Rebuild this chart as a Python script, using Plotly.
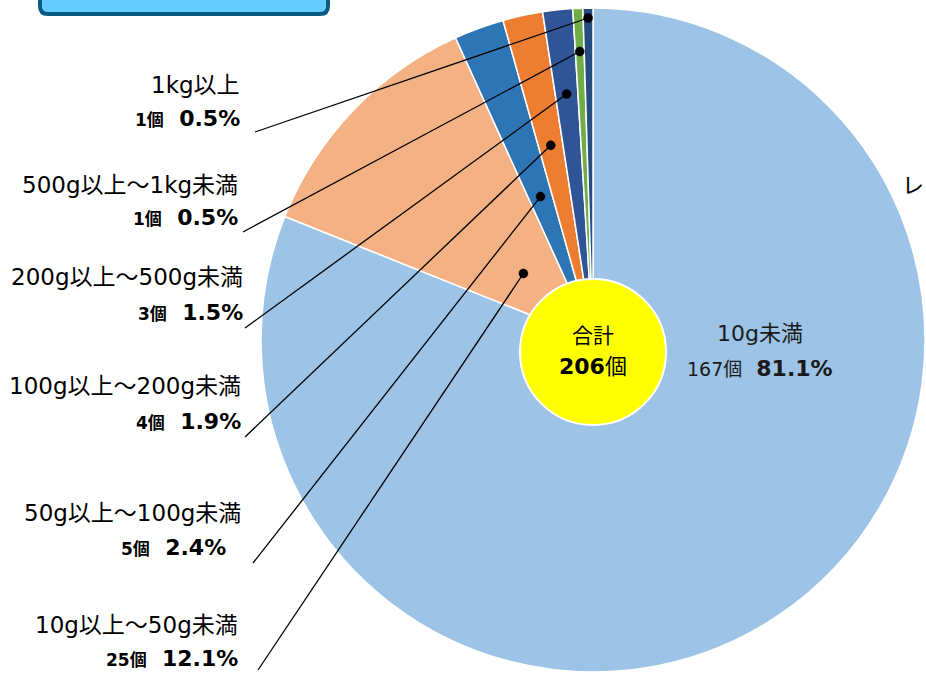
import math
import plotly.graph_objects as go

# ---- data ----
categories = ["10g未満", "10g以上～50g未満", "50g以上～100g未満", "100g以上～200g未満",
              "200g以上～500g未満", "500g以上～1kg未満", "1kg以上"]
counts = [167, 25, 5, 4, 3, 1, 1]
percents = ["81.1%", "12.1%", "2.4%", "1.9%", "1.5%", "0.5%", "0.5%"]
colors = ["#9DC3E6", "#F4B183", "#2E75B6", "#ED7D31", "#2F5597", "#70AD47", "#264D80"]
total_label = "合計"
total_value = sum(counts)

W, H = 926, 673
CX, CY, R = 593, 340, 332
FONT = "DejaVu Sans, Noto Sans CJK JP"

fig = go.Figure()
fig.add_trace(go.Pie(
    values=counts, labels=categories, sort=False, direction="clockwise", rotation=0,
    marker=dict(colors=colors, line=dict(color="white", width=1.5)),
    textinfo="none", hoverinfo="label+value+percent", showlegend=False,
    domain=dict(x=[(CX - R) / W, (CX + R) / W], y=[1 - (CY + R) / H, 1 - (CY - R) / H]),
))

# leader layout per small slice: label anchor, dot radius fraction, text rows
leader = {
    1: dict(lab=(258, 670), rf=0.29, y1=625, y2=658, x1=240, x2=240),
    2: dict(lab=(253, 563), rf=0.46, y1=513, y2=547, x1=243, x2=228),
    3: dict(lab=(245, 437), rf=0.60, y1=386, y2=421, x1=243, x2=243),
    4: dict(lab=(245, 328), rf=0.745, y1=277, y2=312, x1=245, x2=245),
    5: dict(lab=(243, 232), rf=0.87, y1=185, y2=217, x1=240, x2=240),
    6: dict(lab=(255, 132), rf=0.97, y1=85, y2=118, x1=242, x2=242),
}
tot = sum(counts)
cum = 0
mids = []
for c in counts:
    mids.append((cum + c / 2) / tot * 2 * math.pi)
    cum += c

annotations = []
shapes = []
for i, d in leader.items():
    a = mids[i]
    dx = CX + d["rf"] * R * math.sin(a)
    dy = CY - d["rf"] * R * math.cos(a)
    shapes.append(dict(type="line", xref="x", yref="y", x0=d["lab"][0], y0=d["lab"][1], x1=dx, y1=dy,
                       line=dict(color="black", width=1.3), layer="above"))
    shapes.append(dict(type="circle", xref="x", yref="y", x0=dx - 4.5, x1=dx + 4.5, y0=dy - 4.5, y1=dy + 4.5,
                       fillcolor="black", line=dict(color="black", width=0.5), layer="above"))
    annotations.append(dict(x=d["x1"], y=d["y1"], xref="x", yref="y", xanchor="right", yanchor="middle",
                            text=categories[i], showarrow=False,
                            font=dict(family=FONT, size=23, color="black")))
    annotations.append(dict(x=d["x2"], y=d["y2"], xref="x", yref="y", xanchor="right", yanchor="middle",
                            text=f"<b><span style='font-size:17px'>{counts[i]}個</span>&nbsp;&nbsp;{percents[i]}</b>",
                            showarrow=False, font=dict(family=FONT, size=22, color="black")))

# main slice label
annotations.append(dict(x=760, y=333, xref="x", yref="y", text=categories[0], showarrow=False,
                        font=dict(family=FONT, size=22, color="#1a1a1a")))
annotations.append(dict(x=760, y=368, xref="x", yref="y",
                        text=f"<span style='font-size:19px'>{counts[0]}個</span>&nbsp;&nbsp;<b>{percents[0]}</b>",
                        showarrow=False, font=dict(family=FONT, size=22, color="#1a1a1a")))
# centre total
annotations.append(dict(x=593, y=336, xref="x", yref="y", text=total_label, showarrow=False,
                        font=dict(family=FONT, size=21, color="black")))
annotations.append(dict(x=593, y=366, xref="x", yref="y", text=f"<b>{total_value}</b>個", showarrow=False,
                        font=dict(family=FONT, size=22, color="black")))
# side text (only its first glyph is visible in the reference)
annotations.append(dict(x=900, y=185, xref="x", yref="y", xanchor="left", text="レ", showarrow=False,
                        font=dict(family=FONT, size=22, color="black")))

shapes.insert(0, dict(type="circle", xref="x", yref="y", x0=593 - 73, x1=593 + 73, y0=352 - 73, y1=352 + 73,
                      fillcolor="#FFFF00", line=dict(color="white", width=2), layer="above"))
shapes.insert(0, dict(type="path", xref="x", yref="y",
                      path="M 40 -20 L 40 6 Q 40 14 48 14 L 320 14 Q 328 14 328 6 L 328 -20 Z",
                      fillcolor="#66CCFF", line=dict(color="#0B5A80", width=4), layer="above"))

fig.update_layout(
    width=W, height=H, margin=dict(l=0, r=0, t=0, b=0),
    paper_bgcolor="white", plot_bgcolor="rgba(0,0,0,0)",
    xaxis=dict(range=[0, W], visible=False, fixedrange=True),
    yaxis=dict(range=[H, 0], visible=False, fixedrange=True),
    annotations=annotations, shapes=shapes,
    font=dict(family=FONT),
)
fig.write_html("out.html", config={"displayModeBar": False},
               post_script="document.body.style.margin='0';document.body.style.overflow='hidden';")
